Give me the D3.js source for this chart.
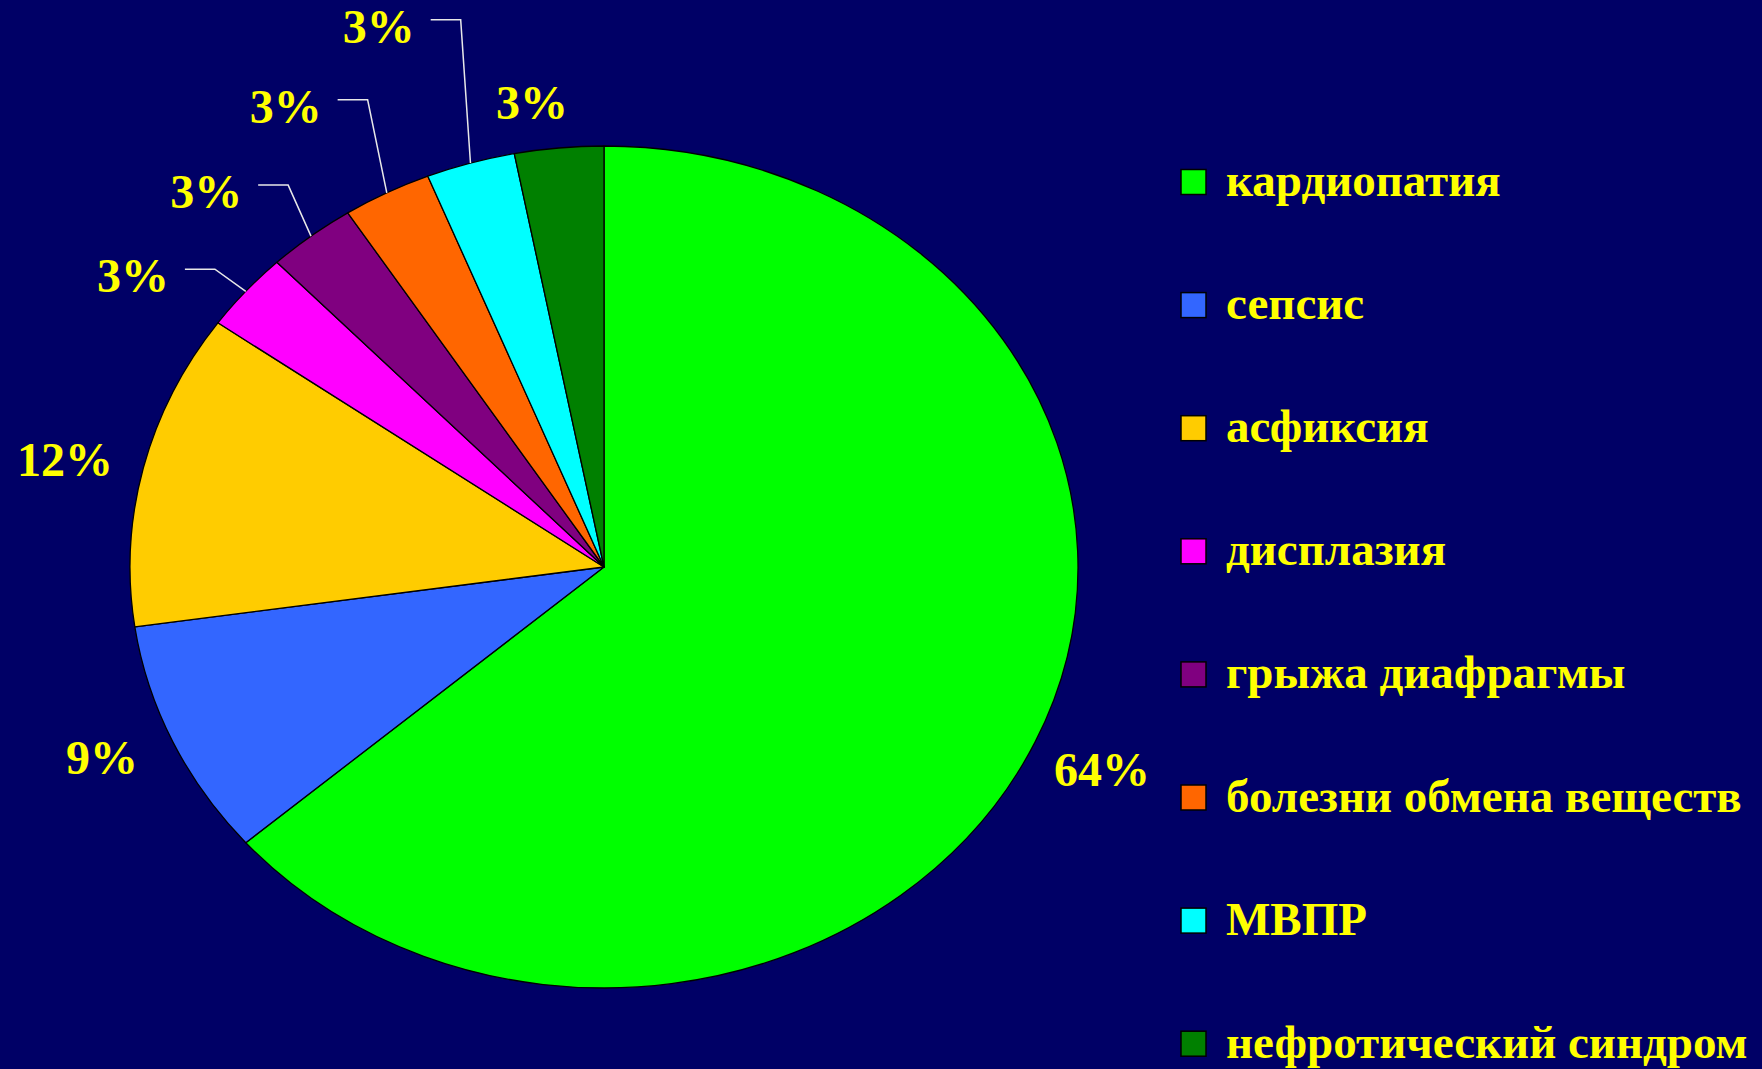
<!DOCTYPE html>
<html>
<head>
<meta charset="utf-8">
<script src="https://cdn.jsdelivr.net/npm/d3@7"></script>
<style>
  html, body { margin: 0; padding: 0; background: #000066; overflow: hidden; }
  svg { display: block; }
  text { font-family: "Liberation Serif", "Times New Roman", serif; font-weight: bold; fill: #FFFF00; }
</style>
</head>
<body>
<svg id="chart" width="1762" height="1069"></svg>
<script>
// ---- data ----
const categories = ["кардиопатия", "сепсис", "асфиксия", "дисплазия", "грыжа диафрагмы", "болезни обмена веществ", "МВПР", "нефротический синдром"];
const counts = [21, 3, 4, 1, 1, 1, 1, 1];
const percentLabels = ["64%", "9%", "12%", "3%", "3%", "3%", "3%", "3%"];
const colors = ["#00FF00", "#3366FF", "#FFCC00", "#FF00FF", "#800080", "#FF6600", "#00FFFF", "#008000"];

// ---- layout ----
const W = 1762, H = 1069;
const cx = 604, cy = 567, rx = 474, ry = 421;
// label placement: angle offset (deg) from slice mid-angle, radius factor; leader line flag
const labelAngleOffset = [0.2, 1.25, -1.1, -6.2, -5.2, -4.35, -4.0, -2.4];
const labelRadius = [1.157, 1.153, 1.165, 1.209, 1.222, 1.281, 1.366, 1.11];
const hasLeader = [false, false, false, true, true, true, true, false];

const svg = d3.select("#chart");
svg.append("rect").attr("width", W).attr("height", H).attr("fill", "#000066");

const data = categories.map((c, i) => ({ name: c, value: counts[i], label: percentLabels[i], color: colors[i], i }));
const pie = d3.pie().value(d => d.value).sort(null).startAngle(0).endAngle(2 * Math.PI);
const arcs = pie(data);
const arc = d3.arc().innerRadius(0).outerRadius(rx);

const g = svg.append("g").attr("transform", `translate(${cx},${cy}) scale(1,${ry / rx})`);
g.selectAll("path").data(arcs).join("path")
  .attr("d", arc)
  .attr("fill", d => d.data.color)
  .attr("stroke", "#000")
  .attr("stroke-width", 1.3)
  .attr("vector-effect", "non-scaling-stroke")
  .attr("stroke-linejoin", "round");

function ellipsePoint(angle, k) {
  return [cx + k * rx * Math.sin(angle), cy - k * ry * Math.cos(angle)];
}

const labelFont = 48;
arcs.forEach((a, i) => {
  const mid = (a.startAngle + a.endAngle) / 2;
  const ang = mid + labelAngleOffset[i] * Math.PI / 180;
  const [lx, ly] = ellipsePoint(ang, labelRadius[i]);
  const t = svg.append("text")
    .attr("x", lx).attr("y", ly + 15)
    .attr("text-anchor", "middle")
    .attr("font-size", labelFont)
    .text(a.data.label);
  if (hasLeader[i]) {
    const w = t.node().getComputedTextLength();
    const x0 = lx + w / 2 + 16, y0 = ly - 8;
    const [ex, ey] = ellipsePoint(mid, 1);
    svg.append("path")
      .attr("d", d3.line()([[x0, y0], [x0 + 30, y0], [ex, ey]]))
      .attr("fill", "none")
      .attr("stroke", "#E8E8E8")
      .attr("stroke-width", 1.5);
  }
});

// ---- legend ----
const legY0 = 182, legStep = 123.1, sq = 25, sqX = 1181, txtX = 1226;
const leg = svg.append("g");
data.forEach((d, i) => {
  const y = legY0 + i * legStep;
  leg.append("rect")
    .attr("x", sqX).attr("y", y - sq / 2).attr("width", sq).attr("height", sq)
    .attr("fill", d.color).attr("stroke", "#000").attr("stroke-width", 1.5);
  leg.append("text")
    .attr("x", txtX).attr("y", y + 14)
    .attr("font-size", 47)
    .text(d.name);
});
</script>
</body>
</html>
